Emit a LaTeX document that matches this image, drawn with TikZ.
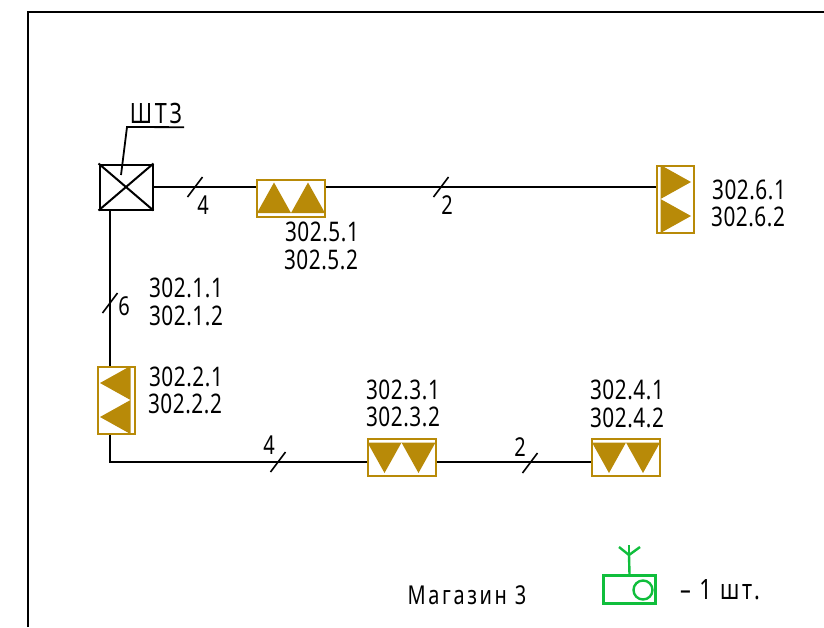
\documentclass[tikz,border=0pt]{standalone}
\usepackage{fontspec}
\setmainfont[FakeStretch=0.77,LetterSpace=2]{Noto Sans}
\newfontfamily\widefont[FakeStretch=0.77,LetterSpace=10]{Noto Sans}
\def\horizlist{{(291, 198.5)/0/u5}, {(401.5, 457)/180/u3}, {(626, 457)/180/u4}}
\def\vertlist{{(116, 400)/90/u2}, {(675, 199)/-90/u6}}
\def\ticklist{{(195, 187)/t1}, {(441, 187)/t2}, {(110, 303)/t3}, {(278, 462)/t4}, {(530, 463)/t5}}
\def\numlist{{(203, 205)/4}, {(447, 205)/2}, {(124, 306)/6}, {(269, 445)/4}, {(520, 447)/2}}
\def\labellist{{(322, 232)/302.5.1}, {(321, 260)/302.5.2}, {(186, 288)/302.1.1}, {(186, 316)/302.1.2},
  {(186, 377)/302.2.1}, {(185, 404)/302.2.2}, {(403, 390)/302.3.1}, {(403, 417)/302.3.2},
  {(627, 390)/302.4.1}, {(627, 418)/302.4.2}, {(749, 190)/302.6.1}, {(748, 217)/302.6.2}}
\definecolor{unitgold}{RGB}{184,138,8}
\definecolor{routergreen}{RGB}{16,190,60}
\tikzstyle{unit-h}=[draw=unitgold,line width=2pt,minimum width=68pt,minimum height=37pt,inner sep=0pt]
\tikzstyle{unit-v}=[draw=unitgold,line width=2pt,minimum width=37pt,minimum height=67pt,inner sep=0pt]
\tikzstyle{unit-tri}=[fill=unitgold]
\tikzstyle{shield}=[draw,line width=2pt,minimum width=53pt,minimum height=45pt,inner sep=0pt]
\tikzstyle{wire}=[draw,line width=2.2pt,-]
\tikzstyle{tick}=[draw,line width=1.6pt,-]
\tikzstyle{txt}=[inner sep=0pt,font=\fontsize{27}{27}\selectfont]
\tikzstyle{widetxt}=[inner sep=0pt,font=\widefont\fontsize{26}{26}\selectfont]
\tikzstyle{router}=[draw=routergreen,line width=2.4pt]

\begin{document}
\begin{tikzpicture}[x=1pt,y=-1pt]
  \useasboundingbox (0,0) rectangle (824,627);
  % Sheet frame
  \coordinate (frame-a) at (28,627);
  \coordinate (frame-b) at (28,12);
  \coordinate (frame-c) at (824,12);
  \draw[line width=1.8pt] (frame-a) -- (frame-b) -- (frame-c);

  % First we draw the units
  \foreach \pos/\ang/\name in \horizlist {
    \node[unit-h] (\name) at \pos {};
    \begin{scope}[shift={(\name)},rotate=\ang]
      \fill[unit-tri] (-34,14.5) -- (-17,-16) -- (0,14.5) -- (17,-16) -- (34,14.5) -- cycle;
    \end{scope}
  }
  \foreach \pos/\ang/\name in \vertlist {
    \node[unit-v] (\name) at \pos {};
    \begin{scope}[shift={(\name)},rotate=\ang]
      \fill[unit-tri] (-34,14.5) -- (-17,-16) -- (0,14.5) -- (17,-16) -- (34,14.5) -- cycle;
    \end{scope}
  }

  % The cabinet with its tag
  \node[shield] (shield) at (126,187) {};
  \draw[line width=2pt] (shield.north west) -- (shield.south east);
  \draw[line width=2pt] (shield.south west) -- (shield.north east);
  \node[widetxt,font=\widefont\fontsize{28}{28}\selectfont,minimum width=56pt,minimum height=28pt] (tag) at (156,113) {ШТЗ};
  \coordinate (lead) at (121,175);
  \draw[line width=1.8pt] (lead) -- (127,127) -- (tag.south east);

  % Connect units with wires
  \coordinate (bend) at (110,462);
  \path[wire] (shield) -- (shield -| u5.west);
  \path[wire] (shield -| u5.east) -- (shield -| u6.west);
  \path[wire] (bend |- shield.south) -- (bend |- u2.north);
  \path[wire] (bend |- u2.south) -- (bend) -- (bend -| u3.west);
  \path[wire] (bend -| u3.east) -- (bend -| u4.west);

  % Cable ticks and core counts
  \foreach \pos/\name in \ticklist {
    \node[coordinate] (\name) at \pos {};
    \path[tick] (\name) +(-7.5,10) -- +(7.5,-10);
  }
  \foreach \pos/\num in \numlist
    \node[txt,font=\fontsize{26}{26}\selectfont] at \pos {\num};

  % Unit numbers
  \foreach \pos/\lbl in \labellist
    \node[txt] at \pos {\lbl};

  % Router legend
  \node[router,minimum width=52pt,minimum height=28pt,inner sep=0pt] (router) at (629.5,589.5) {};
  \node[router,circle,minimum size=19pt,inner sep=0pt] (dish) at (643,590) {};
  \coordinate (mast) at (629,555);
  \draw[router] (router.north) -- (mast);
  \draw[router] (619,547) -- (mast) -- (640,547);
  \draw[router] (mast) -- (629,545);
  \node[widetxt,font=\widefont\fontsize{28}{28}\selectfont] (legend) at (720,590) {– 1 шт.};
  \node[widetxt] (shop) at (467,595) {Магазин 3};
\end{tikzpicture}
\end{document}
